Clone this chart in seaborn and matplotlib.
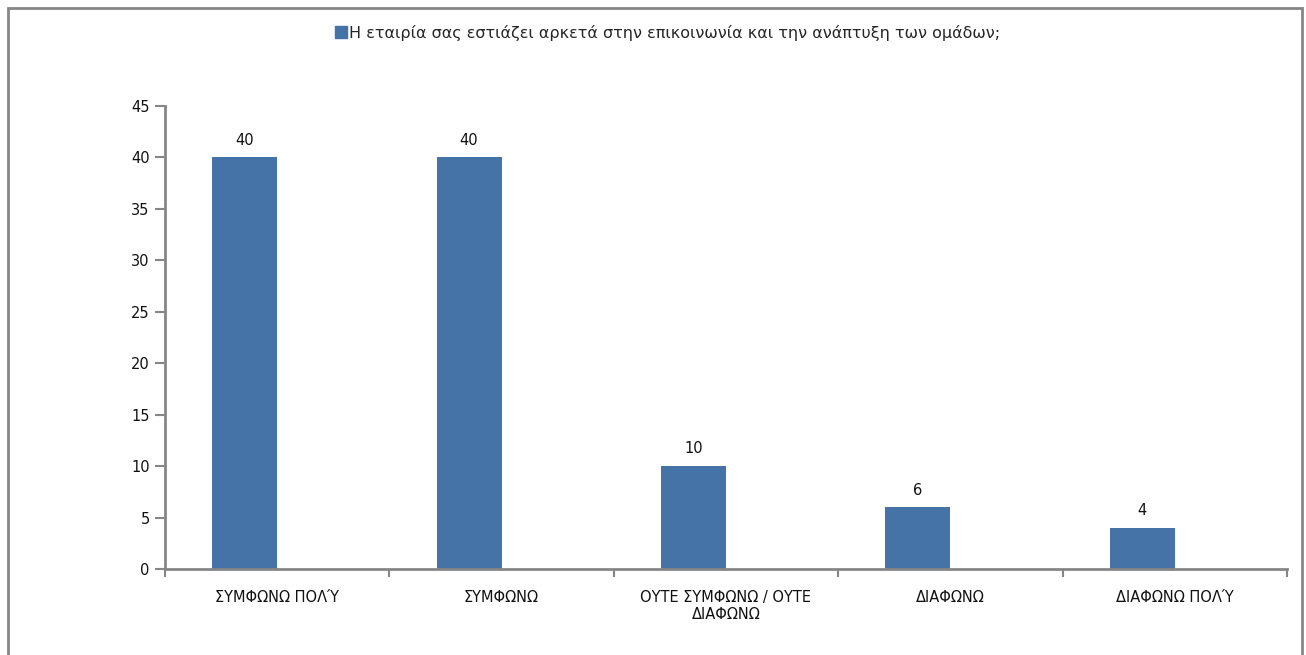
import matplotlib
matplotlib.use("Agg")
import matplotlib.pyplot as plt
from matplotlib.patches import Rectangle
from matplotlib.lines import Line2D
import seaborn as sns
import pandas as pd

# Survey responses (percent)
categories = ["ΣΥΜΦΩΝΩ ΠΟΛΎ", "ΣΥΜΦΩΝΩ", "ΟΥΤΕ ΣΥΜΦΩΝΩ / ΟΥΤΕ\nΔΙΑΦΩΝΩ", "ΔΙΑΦΩΝΩ", "ΔΙΑΦΩΝΩ ΠΟΛΎ"]
values = [40, 40, 10, 6, 4]
series_name = "Η εταιρία σας εστιάζει αρκετά στην επικοινωνία και την ανάπτυξη των ομάδων;"
# second (empty) series slot keeps the bars on the left half of each category
empty_values = [0, 0, 0, 0, 0]
y_ticks = [0, 5, 10, 15, 20, 25, 30, 35, 40, 45]

BAR = "#4572A7"
GRAY = "#868686"

sns.set_theme(style="white")
plt.rcParams["font.family"] = ["DejaVu Sans"]

df = pd.DataFrame({
    "cat": categories * 2,
    "val": values + empty_values,
    "series": [series_name] * len(values) + ["_"] * len(values),
})

fig = plt.figure(figsize=(13.06, 6.55), dpi=100)
ax = fig.add_axes([165 / 1306, 1 - 569 / 655, (1287 - 165) / 1306, (569 - 106) / 655])

sns.barplot(data=df, x="cat", y="val", hue="series", palette=[BAR, BAR],
            width=0.58, dodge=True, saturation=1, legend=False, ax=ax,
            order=categories, hue_order=[series_name, "_"], linewidth=0)

# value labels on the real series only
ax.bar_label(ax.containers[0], labels=[str(v) for v in values], padding=7, fontsize=10.5, color="#111111")

ax.set_xlim(-0.5, len(categories) - 0.5)
ax.set_ylim(0, 45)
ax.set_yticks(y_ticks)
ax.set_yticklabels([str(t) for t in y_ticks], fontsize=10.5, color="#111111")
ax.set_xlabel("")
ax.set_ylabel("")
ax.tick_params(axis="x", which="major", length=0, pad=15, labelsize=10.5, labelcolor="#111111")
ax.set_xticks([i - 0.5 for i in range(len(categories) + 1)], minor=True)
ax.tick_params(axis="x", which="minor", bottom=True, length=6, width=1.5, color=GRAY, direction="out")
ax.tick_params(axis="y", length=7, width=1.5, color=GRAY, direction="out", pad=4, left=True)

for side in ["top", "right"]:
    ax.spines[side].set_visible(False)
for side in ["left", "bottom"]:
    ax.spines[side].set_color(GRAY)
    ax.spines[side].set_linewidth(2)

# outer chart frame
fig.patches.append(Rectangle((8 / 1306, -0.05), (1302 - 8) / 1306, 1.05 - 8 / 655,
                             transform=fig.transFigure, fill=False,
                             edgecolor=GRAY, linewidth=2, clip_on=False))

handle = Line2D([], [], marker="s", linestyle="none", markersize=8,
                markerfacecolor=BAR, markeredgecolor=BAR)
fig.legend([handle], [series_name], loc="center", bbox_to_anchor=(0.511, 1 - 33 / 655),
           frameon=False, fontsize=11.5, handletextpad=0.1, handlelength=0.8)

fig.savefig("out.png", dpi=100, facecolor="white")
